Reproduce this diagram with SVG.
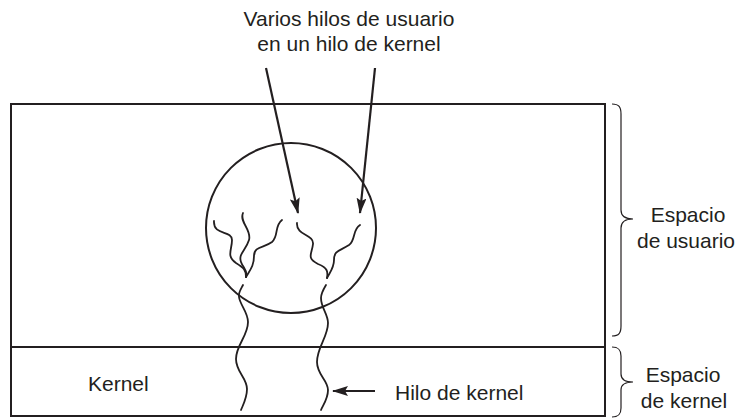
<svg xmlns="http://www.w3.org/2000/svg" width="737" height="418" viewBox="0 0 737 418">
<style>
.box{fill:none;stroke:#231f20;stroke-width:2}
.w{fill:none;stroke:#231f20;stroke-width:1.8;stroke-linecap:round}
.arr{fill:none;stroke:#231f20;stroke-width:2.2}
.br{fill:none;stroke:#231f20;stroke-width:1.2}
text{font-family:"Liberation Sans",Arial,sans-serif;font-size:21px;fill:#231f20}
</style>
<defs>
<marker id="ah" viewBox="0 0 16 10" refX="15" refY="5" markerWidth="16" markerHeight="10" markerUnits="userSpaceOnUse" orient="auto">
<path d="M0,0 L16,5 L0,10 L3,5 Z" fill="#231f20"/>
</marker>
</defs>
<g id="user-space">
<rect class="box" x="11" y="104" width="594" height="243"/>
</g>
<g id="kernel-space">
<rect class="box" x="11" y="347" width="594" height="69"/>
<text x="88" y="391">Kernel</text>
</g>
<g id="process">
<circle class="box" cx="291" cy="228" r="85"/>
</g>
<g id="user-threads">
<path class="w" d="M214,221 C213,236 232,230 232,240 C232,250 226,256 236,263 C244,268 246,270 246,277"/>
<path class="w" d="M243,213 C239,222 252,230 249,240 C246,250 238,254 241,262 C243,268 248,270 246,277"/>
<path class="w" d="M282,220 C274,226 279,236 272,242 C264,248 254,246 254,256 C254,266 250,270 246,277"/>
<path class="w" d="M297,223 C296,236 314,234 313,244 C312,254 306,258 318,264 C328,268 328,272 327,278"/>
<path class="w" d="M360,225 C352,230 356,240 349,245 C340,251 334,250 334,260 C334,268 330,272 327,278"/>
</g>
<g id="kernel-threads">
<path class="w" d="M243,285 C241,289 238,293 239,297 C240,305 248,312 248,322 C248,336 236,345 236,359 C236,372 247,378 247,389 C247,398 243,405 241,410"/>
<path class="w" d="M326,285 C323,290 321,294 321,298 C321,308 328,314 328,323 C328,337 317,347 317,362 C317,375 328,380 328,390 C328,399 323,405 321,410"/>
</g>
<g id="label-top">
<text x="349" y="26" text-anchor="middle">Varios hilos de usuario</text>
<text x="349" y="51" text-anchor="middle">en un hilo de kernel</text>
</g>
<g id="label-hilo">
<text x="395" y="400">Hilo de kernel</text>
</g>
<g id="brace-user">
<path class="br" d="M612,104 C619,104 621,107 621,114 L621,210 C621,216 625,219 633,219 C625,219 621,222 621,228 L621,326 C621,333 619,336 612,336"/>
<text x="688" y="222" text-anchor="middle">Espacio</text>
<text x="686" y="248" text-anchor="middle">de usuario</text>
</g>
<g id="brace-kernel">
<path class="br" d="M612,347 C619,347 621,350 621,356 L621,374 C621,379 625,382 633,382 C625,382 621,385 621,390 L621,408 C621,414 619,417 612,417"/>
<text x="683" y="382" text-anchor="middle">Espacio</text>
<text x="684" y="408" text-anchor="middle">de kernel</text>
</g>
<g id="connectors">
<line class="arr" x1="266" y1="68" x2="298" y2="213" marker-end="url(#ah)"/>
<line class="arr" x1="375" y1="68" x2="360" y2="213" marker-end="url(#ah)"/>
<line class="arr" x1="375" y1="391" x2="333" y2="391" marker-end="url(#ah)"/>
</g>
</svg>
